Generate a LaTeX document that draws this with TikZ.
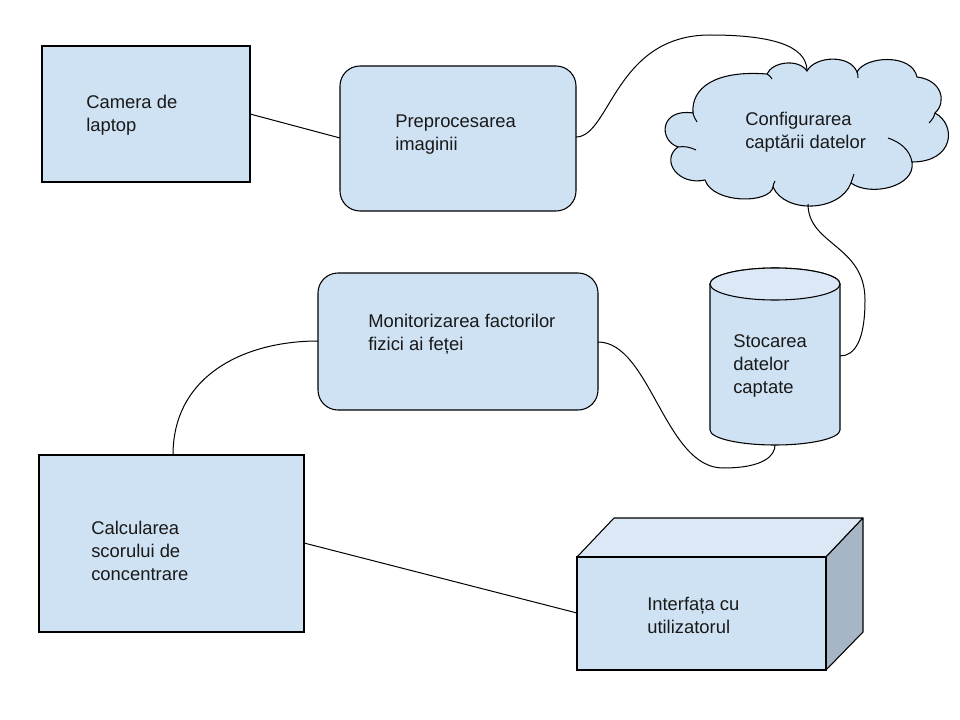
\documentclass[tikz,border=0pt]{standalone}
\usepackage{fontspec}
\setmainfont{Liberation Sans}
\definecolor{boxfill}{HTML}{CFE2F3}
\definecolor{lightfill}{HTML}{DCE8F5}
\definecolor{sidefill}{HTML}{A6B6C6}
\tikzset{
  shapebox/.style={draw=black, line width=0.8pt, fill=boxfill},
  roundbox/.style={shapebox, rounded corners=15pt},
  lbl/.style={anchor=west, align=left, inner sep=0pt, font=\fontsize{13.8}{17.25}\selectfont, text=black!90},
  link/.style={draw=black, line width=0.75pt},
  innerarc/.style={draw=black, line width=0.75pt}
}
\begin{document}
\begin{tikzpicture}[x=0.75pt,y=-0.75pt]
\useasboundingbox (0,0) rectangle (960,720);

% Camera de laptop
\path[shapebox] (42,46) rectangle (250,182);
\coordinate (cam-e) at (250,114);
\node[lbl] (camtext) at (86,115) {Camera de\\laptop};

% Preprocesarea imaginii
\path[roundbox] (340,66) rectangle (576,211);
\coordinate (prep-w) at (340,138);
\coordinate (prep-e) at (576,137);
\node[lbl] (preptext) at (395,135) {Preprocesarea\\imaginii};

% Cloud
\path[shapebox] (693,113)
  .. controls (691,88) and (715,70) .. (767,74)
  .. controls (772,62) and (798,58) .. (807,71)
  .. controls (815,56) and (850,54) .. (857,72)
  .. controls (865,56) and (912,53) .. (917,77)
  .. controls (942,80) and (947,102) .. (935,113)
  .. controls (957,125) and (954,162) .. (912,162)
  .. controls (916,187) and (870,197) .. (851,183)
  .. controls (840,212) and (785,214) .. (773,187)
  .. controls (770,204) and (713,204) .. (705,180)
  .. controls (678,186) and (660,160) .. (678,147)
  .. controls (658,140) and (660,108) .. (693,113) -- cycle;
\draw[innerarc] (693,113) .. controls (694,117) and (695,119) .. (697,122);
\draw[innerarc] (678,147) .. controls (684,146) and (690,147) .. (696,150);
\draw[innerarc] (773,187) .. controls (773,185) and (774,183) .. (775,181);
\draw[innerarc] (851,183) .. controls (852,180) and (853,177) .. (854,174);
\draw[innerarc] (888,138) .. controls (900,142) and (910,150) .. (912,162);
\draw[innerarc] (935,113) .. controls (934,117) and (932,120) .. (929,123);
\draw[innerarc] (857,72) .. controls (858,74) and (858,76) .. (858,78);
\draw[innerarc] (767,74) .. controls (769,75) and (771,77) .. (772,79);
\coordinate (cloud-n) at (807,71);
\coordinate (cloud-s) at (808,204);
\node[lbl] (cloudtext) at (745,132) {Configurarea\\captării datelor};

% Cylinder
\path[shapebox] (710,284) -- (710,430) arc[start angle=180, end angle=0, x radius=65, y radius=15] -- (840,284) arc[start angle=0, end angle=-180, x radius=65, y radius=16] -- cycle;
\path[draw=black, line width=0.8pt, fill=lightfill] (775,284) ellipse[x radius=65, y radius=16];
\coordinate (cyl-e) at (840,356);
\coordinate (cyl-s) at (775,445);
\node[lbl] (cyltext) at (733,366) {Stocarea\\datelor\\captate};

% Monitorizarea
\path[roundbox] (318,273) rectangle (598,410);
\coordinate (mon-w) at (318,341);
\coordinate (mon-e) at (598,342);
\node[lbl] (montext) at (368,334) {Monitorizarea factorilor\\fizici ai feței};

% Calcularea
\path[shapebox] (39,455) rectangle (304,632);
\coordinate (calc-n) at (173,455);
\coordinate (calc-e) at (304,543);
\node[lbl] (calctext) at (91,551) {Calcularea\\scorului de\\concentrare};

% Cube
\path[draw=black, line width=0.8pt, fill=lightfill, line join=round] (577,557) -- (614,518) -- (863,518) -- (826,557) -- cycle;
\path[draw=black, line width=0.8pt, fill=sidefill, line join=round] (826,557) -- (863,518) -- (863,632) -- (826,670) -- cycle;
\path[shapebox] (577,557) rectangle (826,670);
\coordinate (cube-w) at (577,613);
\node[lbl] (cubetext) at (647,615) {Interfața cu\\utilizatorul};

% Connectors
\draw[link] (cam-e) -- (prep-w);
\draw[link] (prep-e) .. controls (610,137) and (615,35) .. (710,35)
  .. controls (770,35) and (807,45) .. (cloud-n);
\draw[link] (cloud-s) .. controls (808,245) and (865,245) .. (865,300)
  .. controls (865,340) and (855,356) .. (cyl-e);
\draw[link] (mon-e) .. controls (650,342) and (665,468) .. (723,468)
  .. controls (765,468) and (775,455) .. (cyl-s);
\draw[link] (mon-w) .. controls (245,341) and (173,375) .. (calc-n);
\draw[link] (calc-e) -- (cube-w);
\end{tikzpicture}
\end{document}
